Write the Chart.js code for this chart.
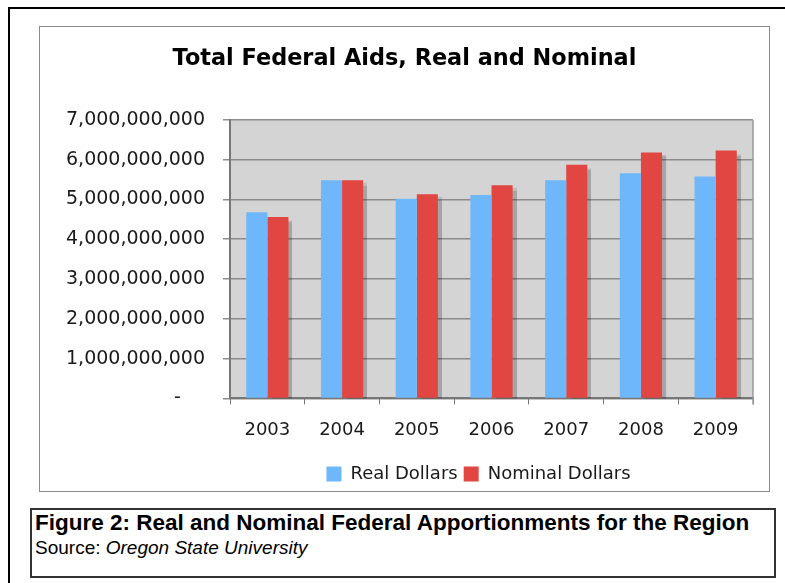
<!DOCTYPE html>
<html>
<head>
<meta charset="utf-8">
<script src="https://cdn.jsdelivr.net/npm/chart.js@4.4.0/dist/chart.umd.min.js"></script>
<style>
  html, body { margin: 0; padding: 0; background: #fff; }
  body { position: relative; width: 785px; height: 583px; overflow: hidden; }
  #outer {
    position: absolute; left: 8px; top: 7px; width: 820px; height: 620px;
    border-left: 2px solid #000; border-top: 2px solid #000;
  }
  #frame {
    position: absolute; left: 39px; top: 26px; width: 729px; height: 464px;
    border: 1px solid #8a8a8a; background: #fff;
  }
  #caption {
    position: absolute; left: 30px; top: 508px; width: 746px; height: 70px;
    box-sizing: border-box; border: 2px solid #333; padding: 0 0 0 3px;
    font-family: "Liberation Sans", Arial, sans-serif; color: #000;
  }
  #caption .fig { font-weight: bold; font-size: 22.5px; line-height: 25px; }
  #caption .src { font-size: 19px; line-height: 25px; }
</style>
</head>
<body>
<div id="outer"></div>
<div id="frame"><canvas id="aidsChart" width="729" height="464"></canvas></div>
<div id="caption">
  <div class="fig">Figure 2: Real and Nominal Federal Apportionments for the Region</div>
  <div class="src">Source: <i>Oregon State University</i></div>
</div>
<script>
  // donnees
  const years = ['2003', '2004', '2005', '2006', '2007', '2008', '2009'];
  const realDollars = [4.68e9, 5.48e9, 5.02e9, 5.11e9, 5.48e9, 5.66e9, 5.58e9];
  const nominalDollars = [4.56e9, 5.48e9, 5.13e9, 5.36e9, 5.87e9, 6.18e9, 6.23e9];
  const yMax = 7e9;
  const yStep = 1e9;

  const colors = {
    real: '#6fb7fb',
    nominal: '#e24643',
    plotBg: '#d4d4d4',
    grid: '#8c8c8c',
    axis: '#777777',
    text: '#1a1a1a'
  };

  const fontFamily = "'DejaVu Sans', Verdana, sans-serif";

  // fond gris de la zone de trace + bordure droite
  const plotBackground = {
    id: 'plotBackground',
    beforeDraw(chart) {
      const a = chart.chartArea;
      const ctx = chart.ctx;
      ctx.save();
      ctx.fillStyle = colors.plotBg;
      ctx.fillRect(a.left, a.top, a.right - a.left, a.bottom - a.top);
      ctx.restore();
    },
    afterDraw(chart) {
      const a = chart.chartArea;
      const ctx = chart.ctx;
      ctx.save();
      ctx.strokeStyle = '#9a9a9a';
      ctx.lineWidth = 1.5;
      ctx.beginPath();
      ctx.moveTo(a.right, a.top);
      ctx.lineTo(a.right, a.bottom + 6);
      ctx.stroke();
      ctx.restore();
    }
  };

  // ombre portee sous les barres rouges
  const barShadow = {
    id: 'barShadow',
    beforeDatasetDraw(chart, args) {
      if (args.index !== 1) return;
      const ctx = chart.ctx;
      ctx.save();
      ctx.shadowColor = 'rgba(0,0,0,0.22)';
      ctx.shadowOffsetX = 4;
      ctx.shadowOffsetY = 3;
      ctx.shadowBlur = 1;
    },
    afterDatasetDraw(chart, args) {
      if (args.index !== 1) return;
      chart.ctx.restore();
    }
  };

  // titre centre sur tout le cadre, legende decalee vers la droite
  const blockShift = {
    id: 'blockShift',
    afterLayout(chart) {
      const t = chart.titleBlock;
      if (t) {
        t.left += 8;
        t.right += 8;
      }
      const lg = chart.legend;
      if (lg) {
        lg.left += 82;
        lg.right += 82;
        lg.top += 3;
        lg.bottom += 3;
      }
    }
  };

  new Chart(document.getElementById('aidsChart'), {
    type: 'bar',
    data: {
      labels: years,
      datasets: [
        {
          label: 'Real Dollars',
          data: realDollars,
          backgroundColor: colors.real,
          categoryPercentage: 0.565,
          barPercentage: 1.0
        },
        {
          label: 'Nominal Dollars',
          data: nominalDollars,
          backgroundColor: colors.nominal,
          categoryPercentage: 0.565,
          barPercentage: 1.0
        }
      ]
    },
    plugins: [plotBackground, barShadow, blockShift],
    options: {
      responsive: false,
      animation: false,
      devicePixelRatio: 1,
      layout: {
        padding: { left: 0, right: 16, top: 0, bottom: 5 }
      },
      plugins: {
        title: {
          display: true,
          text: 'Total Federal Aids, Real and Nominal',
          color: '#000',
          font: { family: fontFamily, size: 22.4, weight: 'bold' },
          padding: { top: 19, bottom: 47 }
        },
        legend: {
          position: 'bottom',
          maxHeight: 30,
          labels: {
            boxWidth: 15,
            boxHeight: 15,
            padding: 6,
            color: colors.text,
            font: { family: fontFamily, size: 18 }
          }
        },
        tooltip: { enabled: false }
      },
      scales: {
        y: {
          min: 0,
          max: yMax,
          afterFit(scale) { scale.width = 190; },
          ticks: {
            stepSize: yStep,
            padding: 18,
            color: colors.text,
            font: { family: fontFamily, size: 19 },
            callback: function(value) {
              if (value === 0) return '-    ';
              return value.toLocaleString('en-US');
            }
          },
          grid: {
            color: colors.grid,
            lineWidth: 1.5,
            tickLength: 7
          },
          border: { color: colors.axis, width: 2 }
        },
        x: {
          ticks: {
            padding: 15,
            color: colors.text,
            font: { family: fontFamily, size: 18 }
          },
          grid: {
            offset: true,
            drawOnChartArea: false,
            color: colors.axis,
            tickLength: 6
          },
          border: { color: colors.axis, width: 2 }
        }
      }
    }
  });
</script>
</body>
</html>
